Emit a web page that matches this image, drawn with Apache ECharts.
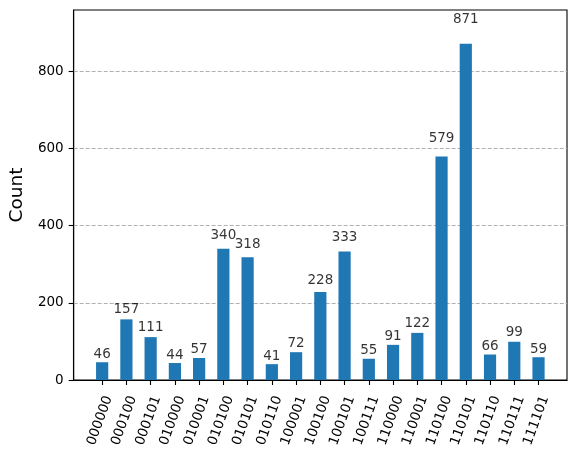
<!DOCTYPE html>
<html>
<head>
<meta charset="utf-8">
<script src="https://cdn.jsdelivr.net/npm/echarts@6/dist/echarts.min.js"></script>
<style>html,body{margin:0;padding:0;background:#fff;}#c{width:576px;height:454px;}</style>
</head>
<body>
<div id="c"></div>
<script>
const categories = ["000000","000100","000101","010000","010001","010100","010101","010110","100001","100100","100101","100111","110000","110001","110100","110101","110110","110111","111101"];
const counts = [46,157,111,44,57,340,318,41,72,228,333,55,91,122,579,871,66,99,59];
const yTicks = [0,200,400,600,800];

const FONT = "DejaVu Sans";
const idx = categories.map((_, i) => i);
const yMax = Math.max(...counts) * 1.1;

const chart = echarts.init(document.getElementById('c'), null, {renderer: 'canvas'});
chart.setOption({
  animation: false,
  backgroundColor: '#fff',
  grid: {left: 71.5, right: 9, top: 10, bottom: 74, show: true, borderColor: '#000', borderWidth: 1.1, backgroundColor: 'transparent'},
  xAxis: {
    type: 'value', min: -1.175, max: idx.length - 1 + 1.175,
    axisLine: {show: true, onZero: false, lineStyle: {color: '#000', width: 1.1}},
    axisTick: {show: true, length: 5, lineStyle: {color: '#000', width: 1.1}, customValues: idx},
    axisLabel: {show: true, rotate: 70, margin: 14, verticalAlign: 'top', fontFamily: FONT, fontSize: 13.5, color: '#000', customValues: idx,
      formatter: v => categories[Math.round(v)]},
    splitLine: {show: false}
  },
  yAxis: {
    type: 'value', min: 0, max: yMax,
    name: 'Count', nameLocation: 'middle', nameGap: 39,
    nameTextStyle: {fontFamily: FONT, fontSize: 18.5, color: '#000'},
    axisLine: {show: true, onZero: false, lineStyle: {color: '#000', width: 1.1}},
    axisTick: {show: true, length: 5, lineStyle: {color: '#000', width: 1.1}, customValues: yTicks},
    axisLabel: {fontFamily: FONT, fontSize: 13.5, color: '#000', margin: 10, customValues: yTicks},
    splitLine: {show: true, lineStyle: {color: '#b0b0b0', width: 1, type: [4, 2]}},
    interval: 200
  },
  series: [
    {
      type: 'bar', data: idx.map(i => [i, counts[i]]), barWidth: 12.2,
      itemStyle: {color: '#1f77b4'}, z: 2
    },
    {
      type: 'scatter', data: idx.map(i => [i, counts[i] * 1.05]), symbolSize: 0, silent: true,
      label: {show: true, position: 'top', distance: 0, fontFamily: FONT, fontSize: 13.5, color: '#000',
        formatter: p => String(counts[p.dataIndex])},
      z: 3
    }
  ]
});
</script>
</body>
</html>
